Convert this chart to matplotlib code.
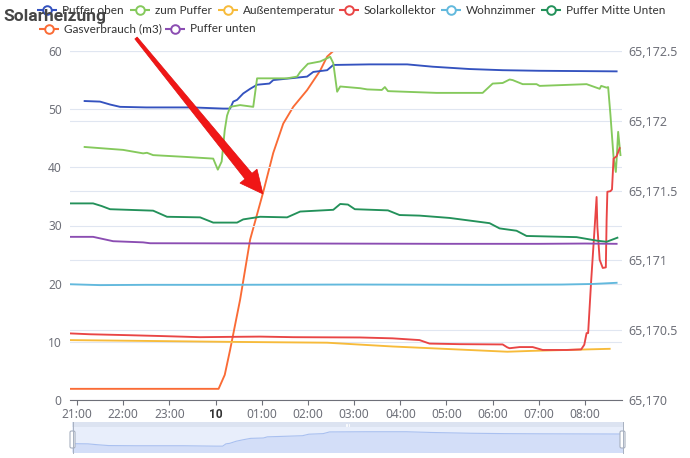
import matplotlib
matplotlib.use("Agg")
import matplotlib.pyplot as plt
import numpy as np
from matplotlib.patches import Polygon, FancyBboxPatch, Rectangle
from matplotlib.ticker import FuncFormatter

plt.rcParams['font.family'] = ['Noto Sans', 'DejaVu Sans']

# ---------------- data ----------------
title = "Solarheizung"
series_names = ["Puffer oben", "zum Puffer", "Außentemperatur", "Solarkollektor",
                "Wohnzimmer", "Puffer Mitte Unten", "Gasverbrauch (m3)", "Puffer unten"]

oben_t = ["21:10","21:30","21:43","21:56","22:30","23:30","00:10","00:19","00:23","00:28",
          "00:36","00:45","00:54","01:10","01:15","01:59","02:07","02:25","02:33","03:20",
          "04:09","04:42","05:30","06:13","07:00","08:41"]
oben_v = [51.4,51.3,50.8,50.4,50.3,50.3,50.1,50.1,51.3,51.6,
          52.7,53.5,54.2,54.4,55.0,55.6,56.4,56.7,57.6,57.7,
          57.7,57.3,56.9,56.7,56.6,56.5]

zum_t = ["21:10","21:30","22:00","22:26","22:31","22:39","23:20","23:57","00:03","00:08",
         "00:12","00:15","00:19","00:32","00:49","00:54","01:33","01:46","01:50","02:00",
         "02:16","02:29","02:33","02:38","02:42","03:08","03:17","03:36","03:40","03:44",
         "04:47","05:47","06:00","06:13","06:22","06:26","06:39","06:57","07:01","08:02",
         "08:19","08:21","08:28","08:30","08:33","08:37","08:40","08:41","08:43","08:46"]
zum_v = [43.5,43.3,43.0,42.4,42.5,42.1,41.8,41.5,39.6,41.0,
         46.4,48.9,50.4,50.7,50.4,55.3,55.3,55.6,56.4,57.8,
         58.2,59.0,57.9,53.0,53.9,53.6,53.4,53.3,53.8,53.1,
         52.8,52.8,54.4,54.5,55.1,55.0,54.3,54.3,54.0,54.3,
         53.5,54.0,53.7,53.8,49.0,41.8,39.2,41.3,46.1,42.1]

aussen_t = ["20:51","00:15","02:25","03:50","06:19","06:52","08:32"]
aussen_v = [10.3,10.0,9.85,9.2,8.3,8.45,8.8]

solar_t = ["20:51","21:17","22:05","22:48","23:40","00:15","00:58","01:41","03:08","03:50",
           "04:25","04:38","05:17","06:13","06:19","06:22","06:35","06:52","07:05","07:36",
           "07:55","07:59","08:02","08:04","08:08","08:12","08:15","08:16","08:19","08:23",
           "08:27","08:28","08:29","08:33","08:35","08:37","08:41","08:45"]
solar_v = [11.45,11.3,11.15,11.0,10.8,10.85,10.9,10.8,10.75,10.6,
           10.3,9.7,9.6,9.55,9.05,8.9,9.1,9.1,8.6,8.6,
           8.7,9.5,11.5,11.5,20.6,28.7,34.9,29.8,24.1,22.7,
           22.8,30.9,35.8,35.9,36.2,41.5,41.9,43.3]

wohn_t = ["20:51","21:30","22:30","00:00","03:00","06:00","07:30","08:10","08:41"]
wohn_v = [19.9,19.75,19.8,19.8,19.85,19.8,19.85,19.95,20.15]

mitte_t = ["20:51","21:21","21:32","21:43","22:39","22:57","23:40","23:57","00:28","00:36",
           "00:58","01:33","01:50","02:33","02:42","02:52","03:01","03:44","03:59","04:25",
           "05:04","05:56","06:09","06:31","06:44","07:49","08:15","08:28","08:36","08:42"]
mitte_v = [33.8,33.8,33.35,32.8,32.55,31.5,31.4,30.5,30.5,31.05,
           31.5,31.4,32.4,32.7,33.7,33.6,32.8,32.6,31.8,31.7,
           31.3,30.4,29.5,29.1,28.2,28.0,27.4,27.2,27.6,27.9]

gas_t = ["20:51","00:04","00:12","00:19","00:32","00:45","01:02","01:15","01:28","01:41",
         "01:59","02:16","02:25","02:33","08:48"]
gas_v = [65170.08,65170.08,65170.18,65170.36,65170.72,65171.15,65171.49,65171.77,65171.98,65172.10,
         65172.22,65172.36,65172.46,65172.5,65172.5]

unten_t = ["20:51","21:21","21:47","22:26","22:35","02:00","05:00","07:00","08:00","08:41"]
unten_v = [28.05,28.05,27.3,27.1,26.95,26.9,26.85,26.85,26.9,26.85]

xtick_times = ["21:00","22:00","23:00","00:00","01:00","02:00","03:00","04:00","05:00","06:00","07:00","08:00"]
xtick_labels = ["21:00","22:00","23:00","10","01:00","02:00","03:00","04:00","05:00","06:00","07:00","08:00"]
x_range = ["20:51", "08:48"]

left_ticks = [0, 10, 20, 30, 40, 50, 60]
right_ticks = [65170, 65170.5, 65171, 65171.5, 65172, 65172.5]

colors = ["#3452bf", "#85c95c", "#f7bb3a", "#e94545", "#62b9dd", "#23915a", "#fa6b35", "#8b4db2"]

BOLD_FAMILY = ['Roboto', 'Lato', 'DejaVu Sans']
LEGEND_FAMILY = ['Lato', 'Noto Sans', 'DejaVu Sans']


def to_h(s):
    h, m = map(int, s.split(":"))
    t = h + m / 60.0
    return t - 21 if t >= 12 else t + 3


def hrs(lst):
    return np.array([to_h(s) for s in lst])


# ---------------- figure ----------------
W, H = 690, 458
fig = plt.figure(figsize=(W / 100, H / 100), dpi=100)
fig.patch.set_facecolor("white")


def fx(px):
    return px / W


def fy(py):
    return 1 - py / H


ax = fig.add_axes([fx(70), fy(400), fx(622) - fx(70), fy(51) - fy(400)])
ax2 = ax.twinx()
ax.set_zorder(3)
ax2.set_zorder(2)
ax.patch.set_visible(False)

grid_c = "#e0e6f1"
lab_c = "#6e7079"
lw = 1.35

left_series = [(oben_t, oben_v, 0), (zum_t, zum_v, 1), (aussen_t, aussen_v, 2), (solar_t, solar_v, 3),
               (wohn_t, wohn_v, 4), (mitte_t, mitte_v, 5), (unten_t, unten_v, 7)]
for t, v, ci in left_series:
    ax.plot(hrs(t), v, color=colors[ci], lw=lw, solid_joinstyle="round")
ax2.plot(hrs(gas_t), gas_v, color=colors[6], lw=lw)

ax.set_xlim(to_h(x_range[0]), to_h(x_range[1]))
ax.set_ylim(0, 60)
ax2.set_ylim(65170, 65172.5)
ax.set_yticks(left_ticks)
ax2.set_yticks(right_ticks)


def rfmt(v, pos):
    if abs(v - round(v)) < 1e-6:
        return f"{int(round(v)):,}"
    return f"{v:,.1f}"


ax2.yaxis.set_major_formatter(FuncFormatter(rfmt))
ax.set_xticks(hrs(xtick_times))
ax.set_xticklabels(xtick_labels)

ax.grid(axis="y", color=grid_c, lw=0.8)
ax2.grid(axis="y", color=grid_c, lw=0.8)
ax.grid(axis="x", visible=False)

for s in ["top", "left", "right"]:
    ax.spines[s].set_visible(False)
for s in ax2.spines.values():
    s.set_visible(False)
ax.spines["bottom"].set_color(lab_c)
ax.spines["bottom"].set_linewidth(0.8)

fs = 8.6
ax.tick_params(axis="x", length=3.6, width=0.8, color=lab_c, labelsize=fs, labelcolor=lab_c, pad=2)
ax.tick_params(axis="y", length=0, labelsize=fs, labelcolor=lab_c, pad=6)
ax2.tick_params(axis="y", length=0, labelsize=9.0, labelcolor=lab_c, pad=4.5)
for lbl in ax.get_xticklabels():
    if lbl.get_text() == "10":
        lbl.set_family(BOLD_FAMILY)
        lbl.set_fontweight("bold")
        lbl.set_color("#333333")

# ---------------- data zoom slider ----------------
sz = fig.add_axes([fx(72), fy(452), fx(623) - fx(72), fy(427) - fy(452)])
sz.set_zorder(4)
sz.set_facecolor("#e8eefb")
ot = hrs(oben_t)
sz.fill_between(ot, oben_v, 0, color="#d3def8", lw=0)
sz.plot(ot, oben_v, color="#a9c0f0", lw=0.8)
sz.set_xlim(ot[0], ot[-1])
sz.set_ylim(47, 60.2)
sz.set_xticks([])
sz.set_yticks([])
for s in sz.spines.values():
    s.set_visible(False)

# ---------------- overlay (pixel coords) ----------------
ov = fig.add_axes([0, 0, 1, 1])
ov.set_zorder(10)
ov.set_xlim(0, W)
ov.set_ylim(H, 0)
ov.axis("off")
ov.patch.set_visible(False)

# slider decorations
ov.add_patch(Rectangle((72, 422), 551, 5, facecolor="#dce3f1", edgecolor="none"))
for hx in (72.5, 622.5):
    ov.plot([hx, hx], [422, 453], color="#a7b0c0", lw=0.7)
    ov.add_patch(FancyBboxPatch((hx - 2.5, 431), 5, 17, boxstyle="round,pad=0,rounding_size=1.5",
                                facecolor="white", edgecolor="#a7b0c0", lw=0.8))
for gx in (345.5, 347, 348.5):
    ov.plot([gx, gx], [423.5, 426], color="white", lw=0.6)

# legend
legend_pos = [(62, 10), (155, 10), (243, 10), (364, 10), (465.5, 10), (565.5, 10), (64, 29), (190, 29)]
for i, (name, (tx, ty)) in enumerate(zip(series_names, legend_pos)):
    c = colors[i]
    ov.plot([tx - 25, tx - 5], [ty, ty], color=c, lw=1.5, solid_capstyle="butt")
    ov.plot([tx - 15], [ty], "o", ms=6.2, mfc="white", mec=c, mew=1.4)
    ov.text(tx, ty, name, fontsize=8.5, family=LEGEND_FAMILY, color="#333333", va="center", ha="left")

# title
ov.text(3, 16, title, fontsize=12.5, fontweight="bold", family=BOLD_FAMILY,
        color="#464646", va="center", ha="left")

# red arrow annotation
T = np.array([136.0, 38.0])
P = np.array([263.0, 194.0])
u = (P - T) / np.linalg.norm(P - T)
n = np.array([-u[1], u[0]])
N = P - u * 23
pts = [T + n * 1.5, N + n * 4.5, N + n * 11, P, N - n * 11, N - n * 4.5, T - n * 1.5]
ov.add_patch(Polygon(pts, closed=True, facecolor="#f01616", edgecolor="#e01010", lw=0.5))

fig.savefig("out.png", dpi=100)
